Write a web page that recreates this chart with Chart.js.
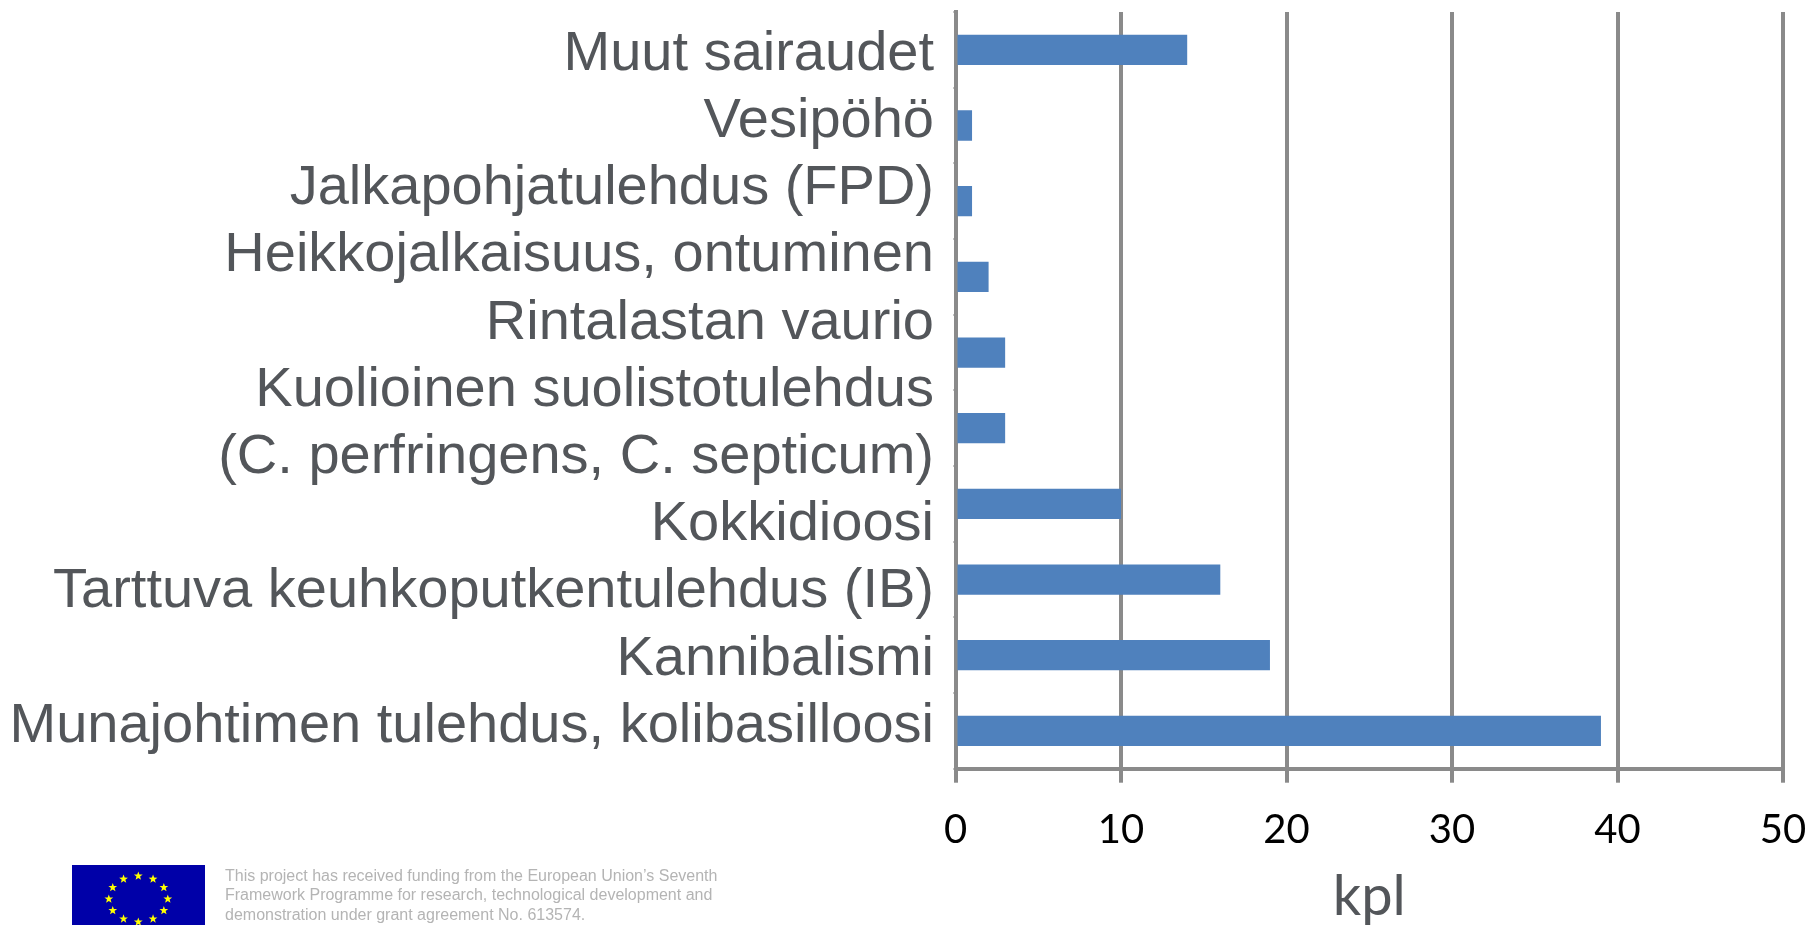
<!DOCTYPE html>
<html>
<head>
<meta charset="utf-8">
<style>html,body{margin:0;padding:0;background:#fff}canvas{display:block}</style>
<script src="https://cdn.jsdelivr.net/npm/chart.js@4"></script>
</head>
<body>
<canvas id="c" width="1820" height="925"></canvas>
<script>
const categories = ["Muut sairaudet","Vesipöhö","Jalkapohjatulehdus (FPD)","Heikkojalkaisuus, ontuminen","Rintalastan vaurio","Kuolioinen suolistotulehdus (C. perfringens, C. septicum)","Kokkidioosi","Tarttuva keuhkoputkentulehdus (IB)","Kannibalismi","Munajohtimen tulehdus, kolibasilloosi"];
const values = [14,1,1,2,3,3,10,16,19,39];
const labelLines = ["Muut sairaudet","Vesipöhö","Jalkapohjatulehdus (FPD)","Heikkojalkaisuus, ontuminen","Rintalastan vaurio","Kuolioinen suolistotulehdus","(C. perfringens, C. septicum)","Kokkidioosi","Tarttuva keuhkoputkentulehdus (IB)","Kannibalismi","Munajohtimen tulehdus, kolibasilloosi"];
const axisTitle = "kpl";
const footerLines = ["This project has received funding from the European Union’s Seventh","Framework Programme for research, technological development and","demonstration under grant agreement No. 613574."];

const footer = {
  id:'footer',
  afterDraw(chart){
    const g = chart.ctx; g.save();
    g.fillStyle='#0000a8'; g.fillRect(72,865,133,60);
    g.fillStyle='#ffff00';
    for(let i=0;i<12;i++){
      const a=i*Math.PI/6, cx=138.3+29.5*Math.sin(a), cy=899-23*Math.cos(a);
      g.beginPath();
      for(let k=0;k<10;k++){
        const r=k%2?1.9:4.6, b=k*Math.PI/5;
        g.lineTo(cx+r*Math.sin(b),cy-r*Math.cos(b));
      }
      g.closePath(); g.fill();
    }
    g.fillStyle='#b4b4b4'; g.font='16px "Liberation Sans"'; g.textBaseline='alphabetic';
    footerLines.forEach((t,i)=>g.fillText(t,225,881+i*19.3));
    g.restore();
  }
};

new Chart(document.getElementById('c'),{
  type:'bar',
  data:{labels:categories,datasets:[{data:values,backgroundColor:'#4f81bd',barPercentage:0.4,categoryPercentage:1,yAxisID:'y',xAxisID:'x'}]},
  plugins:[footer],
  options:{
    indexAxis:'y',responsive:false,animation:false,
    layout:{padding:{top:12,right:37,left:0,bottom:0}},
    plugins:{legend:{display:false},tooltip:{enabled:false}},
    scales:{
      x:{type:'linear',position:'bottom',min:0,max:50,
        afterFit(s){s.height=156.3;s.paddingLeft=0;s.paddingRight=0;},
        ticks:{stepSize:10,color:'#000',font:{family:'Lato',size:40},padding:23,maxRotation:0},
        grid:{color:'#8a8a8a',lineWidth:4,tickLength:14,tickColor:'#8a8a8a'},
        border:{color:'#8a8a8a',width:4},
        title:{display:true,text:axisTitle,color:'#53565a',font:{family:'Lato',size:56},padding:{top:0,bottom:-6}}
      },
      y:{type:'category',position:'left',weight:1,
        afterFit(s){s.width=2.5;s.paddingTop=0;s.paddingBottom=0;},
        ticks:{display:false},
        grid:{drawOnChartArea:false,drawTicks:true,tickLength:2,color:'#8a8a8a',lineWidth:2},
        border:{color:'#8a8a8a',width:4}
      },
      y2:{type:'linear',position:'left',weight:2,reverse:true,offset:false,min:-0.63,max:10.63,
        afterBuildTicks(s){s.ticks=labelLines.map((_,i)=>({value:i}));},
        afterFit(s){s.width=953;s.paddingTop=0;s.paddingBottom=0;},
        ticks:{autoSkip:false,color:'#53565a',font:{family:'Liberation Sans',size:56},padding:11,
          callback:v=>labelLines[v]},
        grid:{display:false},border:{display:false}
      }
    }
  }
});
</script>
</body>
</html>
